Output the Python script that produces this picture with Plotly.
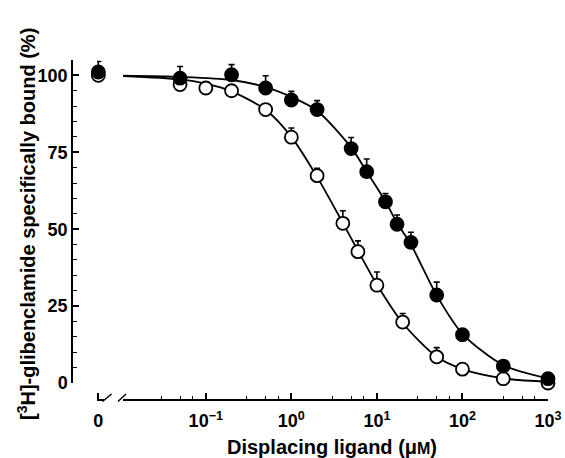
import plotly.graph_objects as go

# ---- data ----
# ligand concentration (µM) of the data points
x_open = [0.05, 0.1, 0.2, 0.5, 1, 2, 4, 6, 10, 20, 50, 100, 300, 1000]
y_open = [97.0, 95.9, 95.0, 88.9, 79.9, 67.4, 51.9, 42.7, 31.8, 19.8, 8.5, 4.5, 1.4, 0.0]
err_open = [1.5, 1.5, 1.5, 1.5, 3.0, 2.4, 4.1, 3.5, 4.3, 2.8, 3.0, 1.5, 1.5, 1.0]

x_filled = [0.05, 0.2, 0.5, 1, 2, 5, 7.6, 12.6, 17.2, 25, 50, 100, 300, 1000]
y_filled = [99.1, 100.2, 95.9, 92.0, 88.9, 76.2, 68.7, 58.9, 51.6, 45.7, 28.6, 15.7, 5.5, 1.4]
err_filled = [3.8, 3.3, 4.0, 2.8, 2.9, 3.6, 4.1, 2.7, 3.0, 3.3, 4.2, 1.5, 1.5, 1.0]

# points at zero concentration (broken axis)
zero_x = [0]
zero_open = [100.0]
zero_filled = [101.1]
zero_err_filled = [3.4]
zero_err_open = [1.0]

# fitted curves
curve_open_x = [0.0108, 0.05, 0.1, 0.2, 0.5, 1, 2, 4, 6, 10, 20, 50, 100, 300, 1000]
curve_open_y = [99.8, 98.7, 97.3, 94.8, 88.8, 80.0, 67.0, 52.0, 43.0, 32.0, 19.5, 8.5, 4.5, 1.5, 0.4]
curve_filled_x = [0.0108, 0.05, 0.2, 0.5, 1, 2, 5, 7.6, 12.6, 17.2, 25, 50, 100, 300, 1000]
curve_filled_y = [99.9, 99.5, 98.5, 96.2, 93.0, 88.5, 76.5, 68.7, 59.0, 52.0, 45.0, 28.5, 16.0, 5.8, 1.5]

x_tickvals = [0.1, 1, 10, 100, 1000]
x_ticktext = ["10<sup>\u22121</sup>", "10<sup>0</sup>", "10<sup>1</sup>", "10<sup>2</sup>", "10<sup>3</sup>"]
x_minorvals = [0.03, 0.05, 0.07, 0.3, 0.5, 0.7, 3, 5, 7, 30, 50, 70, 300, 500, 700]
y_tickvals = [0, 25, 50, 75, 100]
y_minorvals = [5, 10, 15, 20, 30, 35, 40, 45, 55, 60, 65, 70, 80, 85, 90, 95, 105]

x_title = "Displacing ligand (\u03bc<span style='font-size:16px'>M</span>)"
y_title = "[<sup>3</sup>H]-glibenclamide specifically bound (%)"

FONT = "Liberation Sans, Arial, sans-serif"

# ---- geometry helpers (pixel -> paper) ----
W, H = 565, 458
L, R, T, B = 72, 17, 60, 58
PW, PH = W - L - R, H - T - B


def px(xp):
    return (xp - L) / PW


def py(yp):
    return (H - B - yp) / PH


fig = go.Figure()

line_style = dict(color="black", width=1.8, shape="spline", smoothing=0.8)
fig.add_trace(go.Scatter(x=curve_open_x, y=curve_open_y, mode="lines", line=line_style,
                         hoverinfo="skip", showlegend=False))
fig.add_trace(go.Scatter(x=curve_filled_x, y=curve_filled_y, mode="lines", line=line_style,
                         hoverinfo="skip", showlegend=False))


def pts(x, y, err, fill, xaxis="x"):
    return go.Scatter(
        x=x, y=y, mode="markers", xaxis=xaxis, yaxis="y", cliponaxis=False,
        marker=dict(symbol="circle", size=13, color=fill, line=dict(color="black", width=1.8)),
        error_y=dict(type="data", symmetric=False, array=err, arrayminus=[0] * len(err),
                     color="black", thickness=1.6, width=3),
        showlegend=False,
    )


fig.add_trace(pts(x_open, y_open, err_open, "white"))
fig.add_trace(pts(x_filled, y_filled, err_filled, "black"))
fig.add_trace(pts(zero_x, zero_open, zero_err_open, "white", "x2"))
fig.add_trace(pts(zero_x, zero_filled, zero_err_filled, "black", "x2"))

tickfont = dict(family=FONT, size=18, color="black", weight="bold")
titlefont = dict(family=FONT, size=20, color="black", weight="bold")

fig.update_layout(
    width=W, height=H,
    margin=dict(l=L, r=R, t=T, b=B, autoexpand=False),
    paper_bgcolor="white", plot_bgcolor="white",
    xaxis=dict(
        type="log", domain=[px(123), 1], range=[-1.968, 3],
        anchor="free", position=0, automargin=False,
        showline=True, linecolor="black", linewidth=1.5,
        ticks="inside", ticklen=6, tickwidth=1.5, tickcolor="black",
        tickmode="array", tickvals=x_tickvals, ticktext=x_ticktext,
        minor=dict(tickmode="array", tickvals=x_minorvals, ticks="inside", ticklen=3.5,
                   tickwidth=1.3, tickcolor="black", showgrid=False),
        showgrid=False, zeroline=False, tickfont=tickfont, ticklabelstandoff=5,
    ),
    xaxis2=dict(
        domain=[px(97), px(103.5)], range=[-0.3, 1.2],
        anchor="free", position=0, automargin=False,
        showline=True, linecolor="black", linewidth=1.5,
        ticks="inside", ticklen=6, tickwidth=1.5, tickcolor="black",
        tickmode="array", tickvals=[0], ticktext=["0"],
        showgrid=False, zeroline=False, tickfont=tickfont, ticklabelstandoff=5,
    ),
    yaxis=dict(
        domain=[py(383), 1], range=[0, 105],
        anchor="free", position=0, automargin=False,
        showline=True, linecolor="black", linewidth=1.5,
        ticks="inside", ticklen=6, tickwidth=1.5, tickcolor="black",
        tickmode="array", tickvals=y_tickvals,
        minor=dict(tickmode="array", tickvals=y_minorvals, ticks="inside", ticklen=4,
                   tickwidth=1.3, tickcolor="black", showgrid=False),
        showgrid=False, zeroline=False, tickfont=tickfont,
    ),
    annotations=[
        dict(text=x_title, xref="paper", yref="paper", x=px(332), y=py(447),
             xanchor="center", yanchor="middle", showarrow=False, font=titlefont),
        dict(text=y_title, xref="paper", yref="paper", x=px(27), y=py(224),
             xanchor="center", yanchor="middle", textangle=-90, showarrow=False, font=titlefont),
    ],
    shapes=[
        dict(type="line", xref="paper", yref="paper", x0=px(102.5), y0=py(401.5),
             x1=px(111.5), y1=py(394), line=dict(color="black", width=1.5)),
        dict(type="line", xref="paper", yref="paper", x0=px(118), y0=py(401.5),
             x1=px(126), y1=py(394), line=dict(color="black", width=1.5)),
    ],
)

fig.write_html("out.html", config={"displayModeBar": False},
               post_script="document.body.style.margin='0';document.body.style.padding='0';")
